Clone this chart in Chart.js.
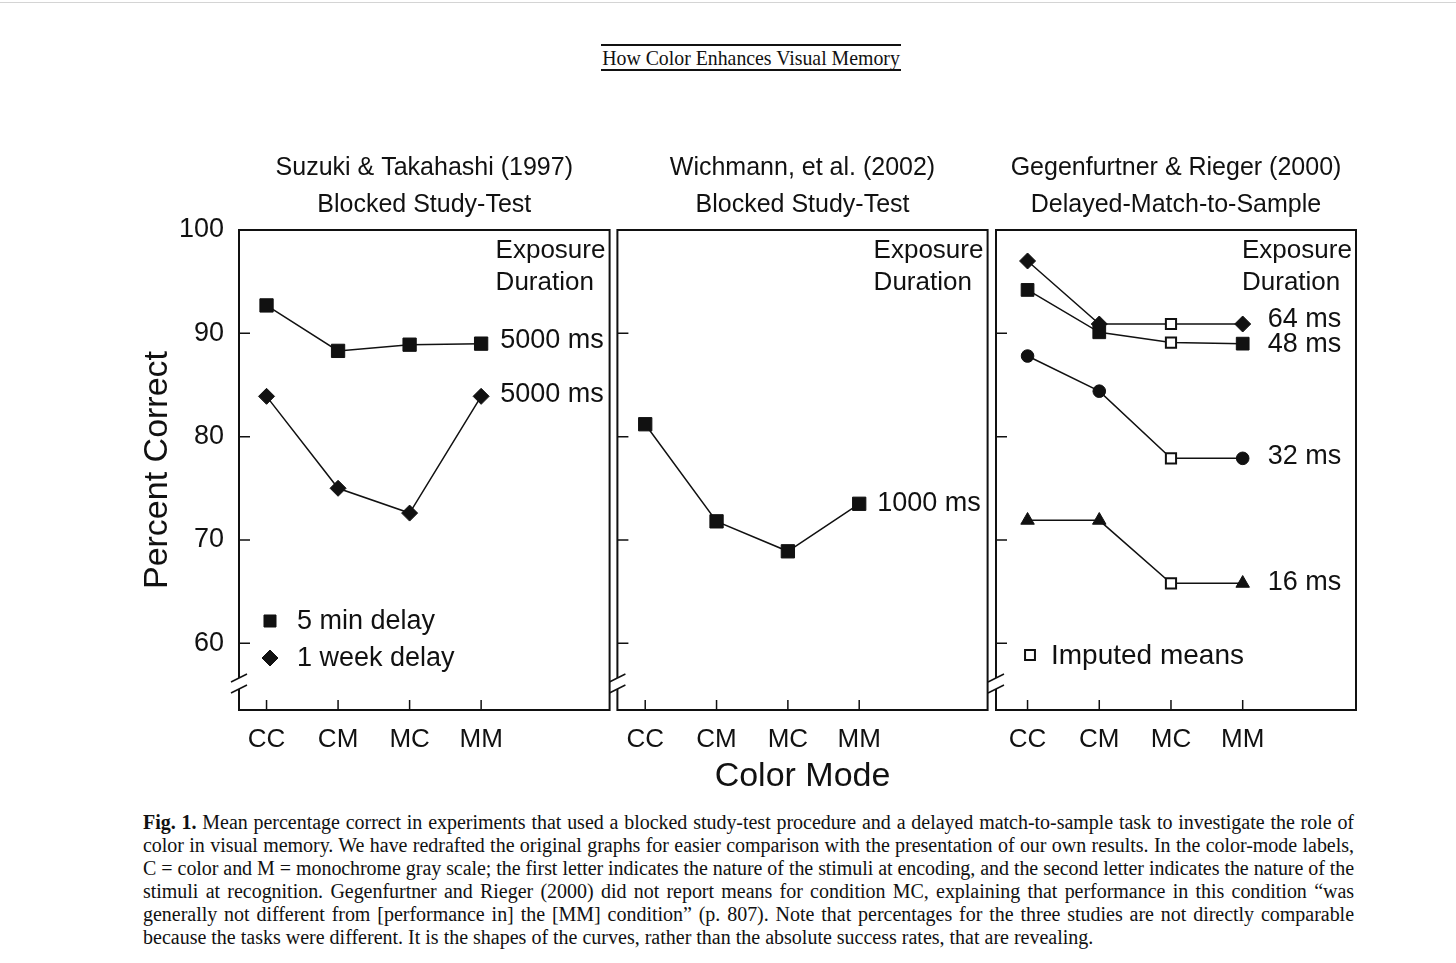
<!DOCTYPE html>
<html>
<head>
<meta charset="utf-8">
<script src="https://cdn.jsdelivr.net/npm/chart.js@4.4.1/dist/chart.umd.min.js"></script>
<style>
  body { margin: 0; background: #fff; width: 1456px; height: 963px; position: relative; overflow: hidden; }
  .topline { position: absolute; left: 0; top: 2px; width: 1456px; height: 1px; background: #d4d4d4; }
  .runhead { position: absolute; left: 601px; top: 44px; width: 300px; height: 23px;
             border-top: 2px solid #111; border-bottom: 2px solid #111; color: #111; }
  .runhead span { position: absolute; left: 50%; top: 0; white-space: nowrap;
                  font: 22px "Liberation Serif", serif; line-height: 24px;
                  transform: translateX(-50%) scaleX(0.9); }
  canvas { position: absolute; }
  .caption { position: absolute; left: 143px; top: 811px; width: 1211px;
             font: 20px/23px "Liberation Serif", serif; color: #111; }
  .caption div { text-align: justify; text-align-last: justify; }
  .caption div.last { text-align-last: left; }
</style>
</head>
<body>
<div class="topline"></div>
<div class="runhead"><span>How Color Enhances Visual Memory</span></div>

<canvas id="suzuki" width="500" height="680" style="left:120px;top:130px"></canvas>
<canvas id="wichmann" width="391" height="680" style="left:607px;top:130px"></canvas>
<canvas id="gegen" width="380" height="680" style="left:986px;top:130px"></canvas>

<div class="caption">
  <div><b>Fig. 1.</b> Mean percentage correct in experiments that used a blocked study-test procedure and a delayed match-to-sample task to investigate the role of</div>
  <div>color in visual memory. We have redrafted the original graphs for easier comparison with the presentation of our own results. In the color-mode labels,</div>
  <div>C = color and M = monochrome gray scale; the first letter indicates the nature of the stimuli at encoding, and the second letter indicates the nature of the</div>
  <div>stimuli at recognition. Gegenfurtner and Rieger (2000) did not report means for condition MC, explaining that performance in this condition “was</div>
  <div>generally not different from [performance in] the [MM] condition” (p. 807). Note that percentages for the three studies are not directly comparable</div>
  <div class="last">because the tasks were different. It is the shapes of the curves, rather than the absolute success rates, that are revealing.</div>
</div>

<script>
const COLOR_MODES = ['CC', 'CM', 'MC', 'MM'];
const Y_TICKS = [60, 70, 80, 90, 100];

// Suzuki & Takahashi (1997)
const suzuki5min = [92.7, 88.3, 88.9, 89.0];
const suzuki1week = [83.9, 75.0, 72.6, 83.9];

// Wichmann et al. (2002)
const wichmann1000 = [81.2, 71.8, 68.9, 73.5];

// Gegenfurtner & Rieger (2000); the MC values are imputed
const gegen64 = [97.0, 90.9, 90.9, 90.9];
const gegen48 = [94.2, 90.1, 89.1, 89.0];
const gegen32 = [87.8, 84.4, 77.9, 77.9];
const gegen16 = [71.9, 71.9, 65.8, 65.8];
const IMPUTED_MODE = 'MC';

const INK = '#111';
const SANS = '"Liberation Sans", Arial, sans-serif';
Chart.defaults.font.family = SANS;
Chart.defaults.color = INK;

// squeeze caption lines that are too long for one justified line
document.querySelectorAll('.caption div').forEach(line => {
  const probe = document.createElement('span');
  probe.style.whiteSpace = 'nowrap';
  probe.innerHTML = line.innerHTML;
  line.innerHTML = '';
  line.appendChild(probe);
  const over = probe.getBoundingClientRect().width - 1207;
  if (over > 0) line.style.letterSpacing = (-over / probe.textContent.length).toFixed(3) + 'px';
  line.innerHTML = probe.innerHTML;
});

function points(values) {
  return values.map((v, i) => ({ x: i, y: v }));
}

function series(values, style, radius, imputed) {
  const isImp = COLOR_MODES.map(m => imputed && m === IMPUTED_MODE);
  return {
    data: points(values),
    borderColor: INK,
    borderWidth: 1.5,
    tension: 0,
    clip: false,
    pointStyle: isImp.map(f => f ? 'rect' : style),
    pointRadius: isImp.map(f => f ? 7.2 : radius),
    pointBackgroundColor: isImp.map(f => f ? '#fff' : INK),
    pointBorderColor: INK,
    pointBorderWidth: isImp.map(f => f ? 2 : 1),
  };
}

// frame with a broken left axis, inward ticks, and the text inside the panel
function decor(cfg) {
  return {
    id: 'decor',
    afterDraw(chart) {
      const { ctx, chartArea: a, scales: { x, y } } = chart;
      ctx.save();
      ctx.strokeStyle = INK;
      ctx.fillStyle = INK;

      ctx.lineWidth = 2;
      ctx.beginPath();
      ctx.moveTo(a.left, a.bottom - 21);
      ctx.lineTo(a.left, a.bottom);
      ctx.lineTo(a.right, a.bottom);
      ctx.lineTo(a.right, a.top);
      ctx.lineTo(a.left, a.top);
      ctx.lineTo(a.left, a.bottom - 32);
      ctx.stroke();

      ctx.lineWidth = 1.5;
      ctx.beginPath();
      [a.bottom - 32, a.bottom - 21].forEach(yy => {
        ctx.moveTo(a.left - 8, yy + 4);
        ctx.lineTo(a.left + 8, yy - 4);
      });
      Y_TICKS.forEach(v => {
        const py = y.getPixelForValue(v);
        ctx.moveTo(a.left, py);
        ctx.lineTo(a.left + 11, py);
      });
      COLOR_MODES.forEach((m, i) => {
        const px = x.getPixelForValue(i);
        ctx.moveTo(px, a.bottom);
        ctx.lineTo(px, a.bottom - 10);
      });
      ctx.stroke();

      ctx.textBaseline = 'middle';
      ctx.textAlign = 'left';
      ctx.font = '26px ' + SANS;
      ctx.fillText('Exposure', a.right - 114, a.top + 21);
      ctx.fillText('Duration', a.right - 114, a.top + 53);

      ctx.font = '27px ' + SANS;
      cfg.labels.forEach(l => {
        const pt = chart.data.datasets[l.ds].data[COLOR_MODES.length - 1];
        ctx.fillText(l.text, x.getPixelForValue(pt.x) + l.dx, y.getPixelForValue(pt.y) + (l.dy || 0));
      });

      (cfg.legend || []).forEach(k => {
        ctx.fillStyle = k.fill;
        ctx.lineWidth = k.border;
        Chart.helpers.drawPoint(ctx, { pointStyle: k.style, radius: k.radius, rotation: 0, borderWidth: k.border },
          a.left + k.dx, a.top + k.dy);
        ctx.fillStyle = INK;
        ctx.font = k.size + 'px ' + SANS;
        ctx.fillText(k.text, a.left + k.tx, a.top + k.dy + 1);
      });
      ctx.restore();
    }
  };
}

function makePanel(id, title, datasets, opts) {
  const showY = !!opts.yLabels;
  return new Chart(document.getElementById(id), {
    type: 'line',
    data: { datasets },
    options: {
      responsive: false,
      animation: false,
      layout: { padding: { left: showY ? 0 : 10, right: 8, top: 0, bottom: 12 } },
      plugins: {
        legend: { display: false },
        tooltip: { enabled: false },
        title: {
          display: true, text: title, fullSize: false,
          font: { size: 25, weight: 'normal', lineHeight: 37 / 25 },
          padding: { top: 19.5, bottom: 6.5 }, color: INK
        }
      },
      scales: {
        x: {
          type: 'linear', min: opts.xMin, max: opts.xMax,
          grid: { display: false, drawTicks: false },
          border: { display: false },
          afterBuildTicks: s => { s.ticks = COLOR_MODES.map((m, i) => ({ value: i })); },
          afterFit: s => { s.height = 88; },
          ticks: { callback: v => COLOR_MODES[v], font: { size: 26 }, padding: 14, autoSkip: false, maxRotation: 0 },
          title: opts.xTitle
            ? { display: true, text: opts.xTitle, font: { size: 34 }, padding: { top: 0, bottom: 1 } }
            : { display: false }
        },
        y: {
          type: 'linear', min: 53.54, max: 100,
          display: showY,
          grid: { display: false, drawTicks: false },
          border: { display: false },
          afterBuildTicks: s => { s.ticks = Y_TICKS.map(v => ({ value: v })); },
          afterFit: s => { s.width = showY ? 119 : 0; },
          ticks: { font: { size: 27 }, padding: 15 },
          title: { display: true, text: 'Percent Correct', font: { size: 34 }, padding: { top: 17, bottom: 0 } }
        }
      }
    },
    plugins: [decor(opts.decor)]
  });
}

makePanel('suzuki', ['Suzuki & Takahashi (1997)', 'Blocked Study-Test'], [
  series(suzuki5min, 'rect', 9.4),
  series(suzuki1week, 'rectRot', 8),
], {
  yLabels: true, xMin: -0.385, xMax: 4.796,
  decor: {
    labels: [
      { ds: 0, text: '5000 ms', dx: 19, dy: -3 },
      { ds: 1, text: '5000 ms', dx: 19, dy: -2 },
    ],
    legend: [
      { style: 'rect', radius: 8.5, fill: INK, border: 1, dx: 31, dy: 391, tx: 58, text: '5 min delay', size: 27 },
      { style: 'rectRot', radius: 8, fill: INK, border: 1, dx: 31, dy: 428, tx: 58, text: '1 week delay', size: 27 },
    ]
  }
});

makePanel('wichmann', ['Wichmann, et al. (2002)', 'Blocked Study-Test'], [
  series(wichmann1000, 'rect', 9.4),
], {
  xMin: -0.39, xMax: 4.80, xTitle: 'Color Mode',
  decor: { labels: [{ ds: 0, text: '1000 ms', dx: 18 }] }
});

makePanel('gegen', ['Gegenfurtner & Rieger (2000)', 'Delayed-Match-to-Sample'], [
  series(gegen64, 'rectRot', 8, true),
  series(gegen48, 'rect', 9, true),
  series(gegen32, 'circle', 6.3, true),
  series(gegen16, 'triangle', 7.8, true),
], {
  xMin: -0.44, xMax: 4.58,
  decor: {
    labels: [
      { ds: 0, text: '64 ms', dx: 25, dy: -4 },
      { ds: 1, text: '48 ms', dx: 25, dy: 1 },
      { ds: 2, text: '32 ms', dx: 25, dy: -2 },
      { ds: 3, text: '16 ms', dx: 25, dy: -1 },
    ],
    legend: [
      { style: 'rect', radius: 7, fill: '#fff', border: 2, dx: 34, dy: 425, tx: 55, text: 'Imputed means', size: 28 },
    ]
  }
});
</script>
</body>
</html>
